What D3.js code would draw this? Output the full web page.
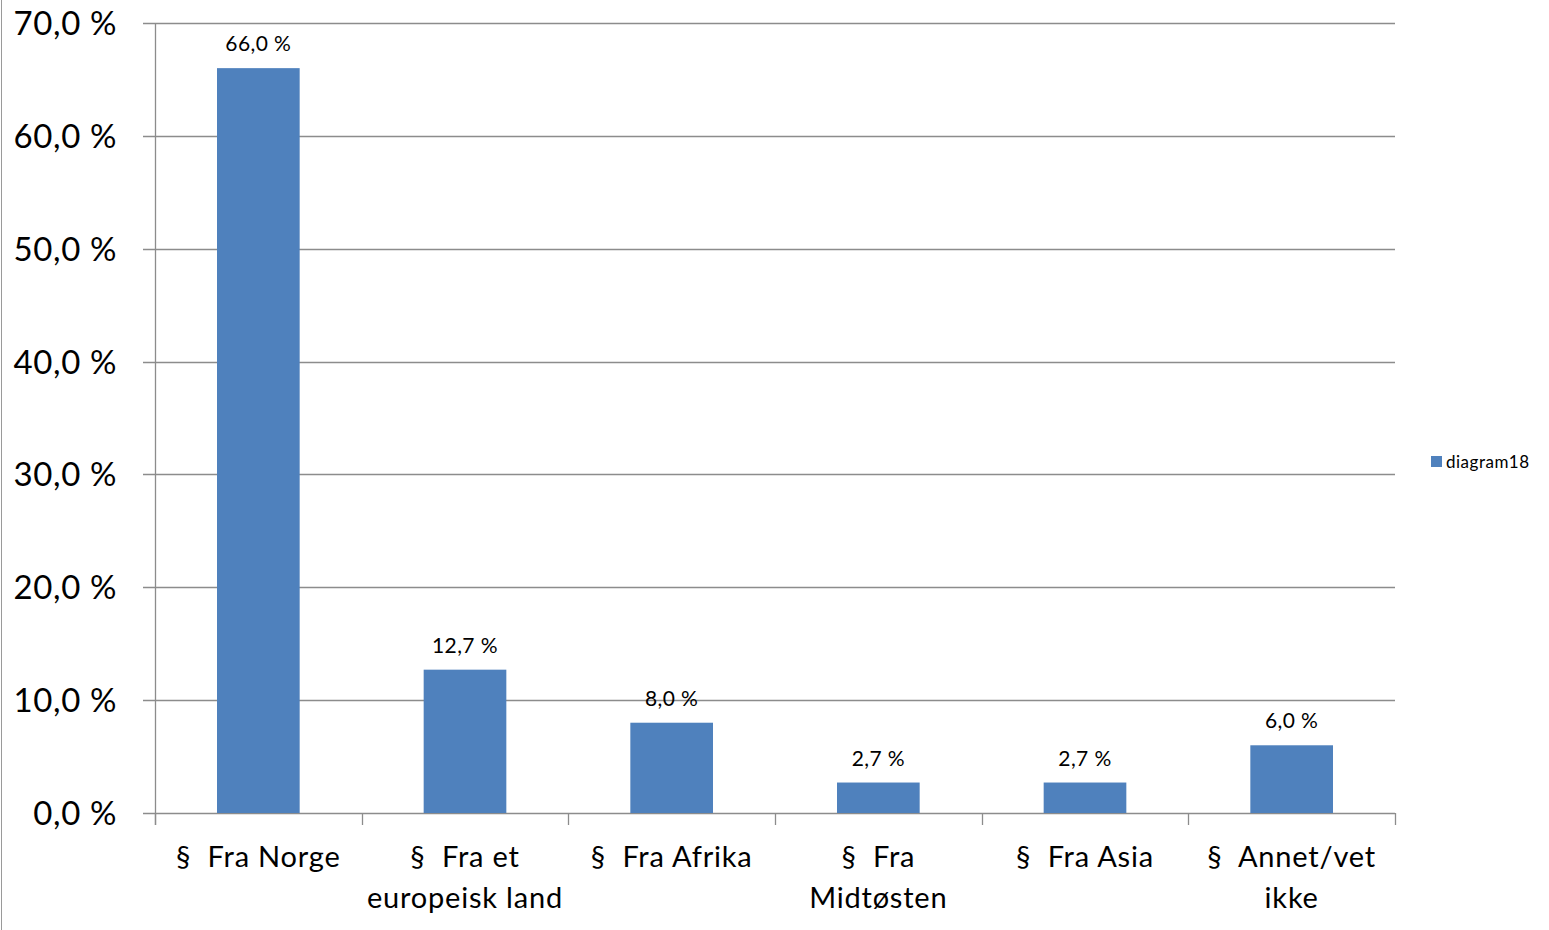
<!DOCTYPE html>
<html>
<head>
<meta charset="utf-8">
<script src="https://cdn.jsdelivr.net/npm/d3@7"></script>
<style>
  body { margin: 0; background: #fff; }
  svg { display: block; font-family: Lato, "Open Sans", sans-serif; }
  text { white-space: pre; }
</style>
</head>
<body>
<svg></svg>
<script>
var categories = [["§  Fra Norge"], ["§  Fra et", "europeisk land"], ["§  Fra Afrika"],
                  ["§  Fra", "Midtøsten"], ["§  Fra Asia"], ["§  Annet/vet", "ikke"]];
var values = [66.0, 12.7, 8.0, 2.7, 2.7, 6.0];
var yTicks = [0, 10, 20, 30, 40, 50, 60, 70];
var seriesName = "diagram18";

var width = 1549;
var height = 930;
var barColor = "#4f81bd";
var gridColor = "#8c8c8c";

var svg = d3.select('svg')
    .attr('width', width)
    .attr('height', height);

var plotLeft = 155, plotRight = 1395, plotTop = 23, plotBottom = 813;

var x = d3.scaleBand()
    .domain(d3.range(values.length))
    .range([plotLeft, plotRight])
    .paddingInner(0.6)
    .paddingOuter(0.3);

var y = d3.scaleLinear()
    .domain([0, 70])
    .range([plotBottom, plotTop]);

var fmt = d => d.toFixed(1).replace('.', ',') + ' %';

// outer border on the left
svg.append('line')
    .attr('x1', 1.5).attr('x2', 1.5)
    .attr('y1', 0).attr('y2', height)
    .attr('stroke', '#9a9a9a');

// gridlines + y ticks
svg.append('g')
  .selectAll('line')
  .data(yTicks)
  .enter()
  .append('line')
    .attr('x1', plotLeft - 12)
    .attr('x2', plotRight)
    .attr('y1', d => Math.round(y(d)) + 0.5)
    .attr('y2', d => Math.round(y(d)) + 0.5)
    .attr('stroke', gridColor)
    .attr('stroke-width', 1.3);

svg.append('g')
  .selectAll('text')
  .data(yTicks)
  .enter()
  .append('text')
    .attr('x', 117)
    .attr('y', d => y(d) + 12)
    .attr('text-anchor', 'end')
    .attr('font-size', 33)
    .attr('letter-spacing', 0.6)
    .attr('fill', '#000')
    .text(fmt);

// y axis line
svg.append('line')
    .attr('x1', plotLeft + 0.5).attr('x2', plotLeft + 0.5)
    .attr('y1', plotTop).attr('y2', plotBottom + 12)
    .attr('stroke', gridColor)
    .attr('stroke-width', 1.3);

// x ticks between categories
var step = (plotRight - plotLeft) / values.length;
svg.append('g')
  .selectAll('line')
  .data(d3.range(values.length + 1))
  .enter()
  .append('line')
    .attr('x1', d => Math.round(plotLeft + d * step) + 0.5)
    .attr('x2', d => Math.round(plotLeft + d * step) + 0.5)
    .attr('y1', plotBottom)
    .attr('y2', plotBottom + 12)
    .attr('stroke', gridColor)
    .attr('stroke-width', 1.3);

// bars
svg.append('g')
  .selectAll('rect')
  .data(values)
  .enter()
  .append('rect')
    .attr('x', (d, i) => x(i))
    .attr('y', d => y(d))
    .attr('width', x.bandwidth())
    .attr('height', d => plotBottom - y(d))
    .attr('fill', barColor);

// value labels
svg.append('g')
  .selectAll('text')
  .data(values)
  .enter()
  .append('text')
    .attr('x', (d, i) => x(i) + x.bandwidth() / 2)
    .attr('y', d => y(d) - 17)
    .attr('text-anchor', 'middle')
    .attr('font-size', 21)
    .attr('letter-spacing', 0.4)
    .attr('fill', '#000')
    .text(fmt);

// category labels
var cat = svg.append('g')
  .selectAll('text')
  .data(categories)
  .enter()
  .append('text')
    .attr('x', (d, i) => x(i) + x.bandwidth() / 2)
    .attr('y', 867)
    .attr('text-anchor', 'middle')
    .attr('font-size', 29)
    .attr('letter-spacing', 0.8)
    .attr('fill', '#000');

cat.selectAll('tspan')
  .data(d => d)
  .enter()
  .append('tspan')
    .attr('x', function() { return d3.select(this.parentNode).attr('x'); })
    .attr('dy', (d, i) => i === 0 ? 0 : 41)
    .text(d => d);

// legend
svg.append('rect')
    .attr('x', 1431).attr('y', 456)
    .attr('width', 11).attr('height', 11)
    .attr('fill', barColor);

svg.append('text')
    .attr('x', 1446).attr('y', 468)
    .attr('font-size', 17)
    .attr('letter-spacing', 0.5)
    .attr('fill', '#000')
    .text(seriesName);
</script>
</body>
</html>
